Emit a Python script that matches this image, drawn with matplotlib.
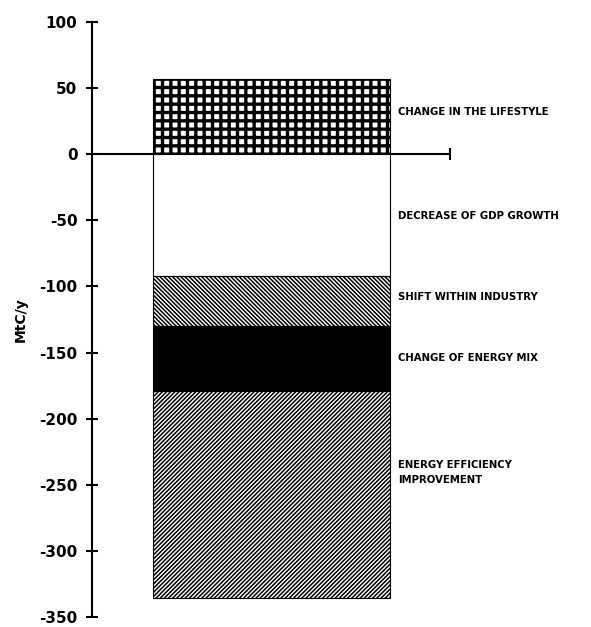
import matplotlib
matplotlib.use("Agg")
import matplotlib.pyplot as plt

# segment bounds (MtC/y), top to bottom
labels = ["CHANGE IN THE LIFESTYLE", "DECREASE OF GDP GROWTH", "SHIFT WITHIN INDUSTRY",
          "CHANGE OF ENERGY MIX", "ENERGY EFFICIENCY\nIMPROVEMENT"]
tops = [57, 0, -92, -130, -179]
bottoms = [0, -92, -130, -179, -336]
label_y = [32, -47, -108, -154, -241]
yticks = [100, 50, 0, -50, -100, -150, -200, -250, -300, -350]

hatches = ["++", "", "\\" * 8, "", "/" * 8]
faces = ["white", "white", "white", "black", "white"]
hatch_lw = [2.4, 1.0, 1.1, 1.0, 1.1]

plt.rcParams['font.family'] = ['DejaVu Sans']
plt.rcParams['font.weight'] = 'bold'

fig = plt.figure(figsize=(5.91, 6.27), dpi=100)
ax = fig.add_axes([0.1557, 0.016, 0.606, 0.949])

for i in range(len(tops)):
    with plt.rc_context({'hatch.linewidth': hatch_lw[i], 'hatch.color': 'black'}):
        ax.bar(0.5, tops[i] - bottoms[i], bottom=bottoms[i], width=0.662,
               color=faces[i], edgecolor='black', hatch=hatches[i], linewidth=0.8)
    ax.text(0.855, label_y[i], labels[i], fontsize=7.3, fontweight='bold',
            va='center', ha='left', linespacing=1.6)

ax.set_xlim(0, 1)
ax.set_ylim(-350, 100)
ax.set_yticks(yticks)
ax.set_yticklabels([str(t) for t in yticks], fontsize=11, fontweight='bold')
ax.tick_params(axis='y', direction='inout', length=9, width=1.5, pad=6)
ax.set_xticks([])
ax.spines['top'].set_visible(False)
ax.spines['right'].set_visible(False)
ax.spines['left'].set_linewidth(1.5)
ax.spines['bottom'].set_position(('data', 0))
ax.spines['bottom'].set_linewidth(1.5)
ax.spines['bottom'].set_zorder(0)
ax.plot([1], [0], marker='|', markersize=9, markeredgewidth=1.5, color='black', clip_on=False)
ax.set_ylabel("MtC/y", fontsize=10, fontweight='bold', labelpad=8)

fig.savefig("out.png", dpi=100)
